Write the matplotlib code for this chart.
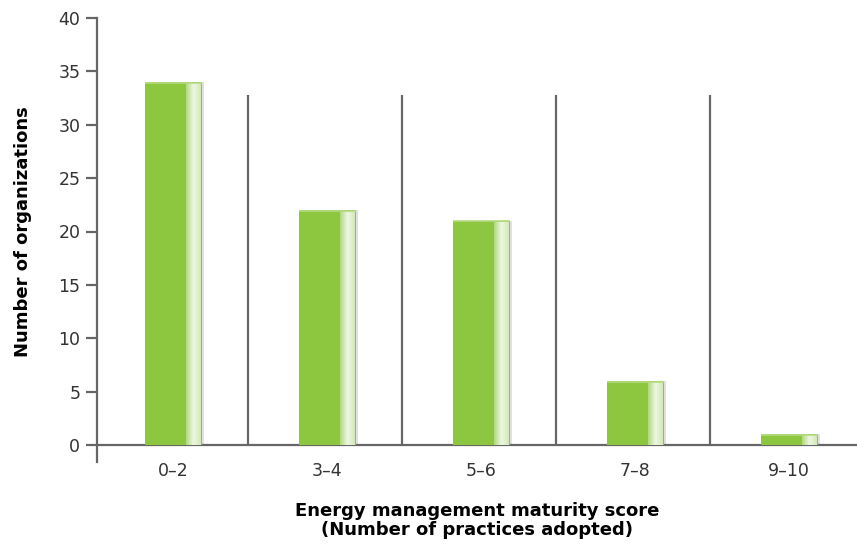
import numpy as np
import matplotlib.pyplot as plt
from matplotlib.colors import LinearSegmentedColormap

categories = ["0–2", "3–4", "5–6", "7–8", "9–10"]
counts = [34, 22, 21, 6, 1]

green = "#8dc63f"
axis_grey = "#666666"
text_grey = "#333333"

fig = plt.figure(figsize=(8.57, 5.48), dpi=100)
ax = fig.add_axes([97 / 857, 103 / 548, 760 / 857, 427 / 548])

x = np.arange(len(categories))
width = 0.37
off = 0.015
shine = LinearSegmentedColormap.from_list("shine", ["#b0d97a", "#eef7e4", "#d2e9b4"])
grad = np.linspace(0, 1, 64).reshape(1, -1)

for xi, v in zip(x + off, counts):
    # soft drop shadow
    ax.bar(xi + 0.012, v + 0.15, width=width + 0.012, bottom=-0.15,
           color="#000000", alpha=0.12, zorder=2)
    ax.bar(xi, v, width=width, color=green, zorder=3)
    # light strip on the right side of each bar
    x0 = xi + width / 2 - width * 0.27
    x1 = xi + width / 2 - 0.006
    ax.imshow(grad, cmap=shine, aspect="auto", extent=(x0, x1, 0, v - 0.12),
              zorder=4, interpolation="bicubic")
    ax.plot([xi - width / 2, xi + width / 2], [v - 0.06, v - 0.06],
            color="#b5dc84", lw=1.2, zorder=5, solid_capstyle="butt")

# separators between groups
ax.vlines(x[:-1] + 0.5, 0, 32.8, color=axis_grey, lw=1.6, zorder=1)

ax.set_xlim(-0.48, -0.48 + 760 / 154)
ax.set_ylim(0, 40)
ax.set_yticks(range(0, 41, 5))
ax.set_xticks(x + off)
ax.set_xticklabels(categories)

for s in ["top", "right"]:
    ax.spines[s].set_visible(False)
for s in ["left", "bottom"]:
    ax.spines[s].set_color(axis_grey)
    ax.spines[s].set_linewidth(1.6)
ax.spines["left"].set_bounds(-1.6, 40)

ax.tick_params(axis="y", length=8, width=1.6, color=axis_grey,
               labelsize=12.5, labelcolor=text_grey, pad=4)
ax.tick_params(axis="x", length=0, labelsize=12.5, labelcolor=text_grey, pad=12)

ax.set_ylabel("Number of organizations", fontsize=13, fontweight="bold",
              color="black", labelpad=19)
ax.set_xlabel("Energy management maturity score\n(Number of practices adopted)",
              fontsize=13, fontweight="bold", color="black", labelpad=16,
              linespacing=1.1)

fig.savefig("out.png", dpi=100)
